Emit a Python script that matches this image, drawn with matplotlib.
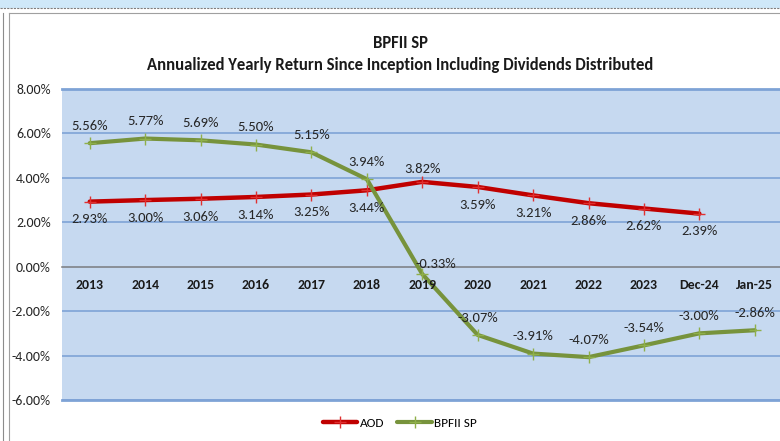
import matplotlib
matplotlib.use("Agg")
import matplotlib.pyplot as plt
from matplotlib.lines import Line2D
from matplotlib.patches import Rectangle
from matplotlib.ticker import FuncFormatter, MultipleLocator

categories = ["2013", "2014", "2015", "2016", "2017", "2018", "2019", "2020",
              "2021", "2022", "2023", "Dec-24", "Jan-25"]
aod = [2.93, 3.00, 3.06, 3.14, 3.25, 3.44, 3.82, 3.59, 3.21, 2.86, 2.62, 2.39]
bpfii = [5.56, 5.77, 5.69, 5.50, 5.15, 3.94, -0.33, -3.07, -3.91, -4.07, -3.54, -3.00, -2.86]
aod_label_above = [False, False, False, False, False, False, True, False, False, False, False, False]
title = "BPFII SP"
subtitle = "Annualized Yearly Return Since Inception Including Dividends Distributed"

FONT = ["Carlito", "DejaVu Sans"]
plt.rcParams["font.family"] = FONT

fig = plt.figure(figsize=(7.8, 4.41), dpi=100)
fig.patch.set_facecolor("white")

# decorative frame around the chart
fig.patches.append(Rectangle((0, 1 - 8 / 441), 1, 8 / 441, transform=fig.transFigure,
                             facecolor="#cfe8f8", edgecolor="none", zorder=0))
fig.lines.append(Line2D([0, 1], [1 - 8 / 441] * 2, transform=fig.transFigure,
                        color="#7f7f7f", lw=0.8, ls=(0, (2, 1))))
fig.lines.append(Line2D([9 / 780, 1], [1 - 13 / 441] * 2, transform=fig.transFigure,
                        color="#a0a0a0", lw=0.8))
fig.lines.append(Line2D([3 / 780] * 2, [0, 1 - 13 / 441], transform=fig.transFigure,
                        color="#8c8c8c", lw=0.8))
fig.lines.append(Line2D([9 / 780] * 2, [0, 1 - 13 / 441], transform=fig.transFigure,
                        color="#a0a0a0", lw=0.8))

ax = fig.add_axes([62 / 780, 41 / 441, 720.5 / 780, 311 / 441])
ax.set_facecolor("#c6d9f0")
ax.set_xlim(-0.5, len(categories) - 0.5)
ax.set_ylim(-6, 8)
ax.yaxis.set_major_locator(MultipleLocator(2))
ax.yaxis.set_major_formatter(FuncFormatter(lambda v, p: f"{v:.2f}%"))
ax.grid(axis="y", color="#7ea3d6", lw=1.2, zorder=1)
ax.set_axisbelow(True)
for s in ["left", "right", "top"]:
    ax.spines[s].set_visible(False)
ax.spines["bottom"].set_position(("data", 0))
ax.spines["bottom"].set_color("#8c8c8c")
ax.spines["bottom"].set_linewidth(1.2)
ax.spines["bottom"].set_zorder(1.5)
ax.axhline(-6, color="#7ea3d6", lw=2.0, zorder=1.2, clip_on=False)
ax.axhline(8, color="#7ea3d6", lw=2.0, zorder=1.2, clip_on=False)
ax.set_xticks(range(len(categories)))
ax.set_xticklabels(categories, fontweight="bold", fontsize=10, color="#1a1a1a")
ax.tick_params(axis="x", length=0, pad=9)
ax.tick_params(axis="y", length=0, pad=8, labelsize=10, labelcolor="#262626")
ax.xaxis.set_zorder(5)

x_aod = list(range(len(aod)))
x_b = list(range(len(bpfii)))
ax.plot(x_aod, aod, color="#c00000", lw=3.2, marker="+", ms=9, mew=1.0,
        mec="#e03030", label="AOD", zorder=3, solid_capstyle="round")
ax.plot(x_b, bpfii, color="#77933c", lw=3.0, marker="+", ms=9, mew=1.0,
        mec="#8fb04a", label="BPFII SP", zorder=3, solid_capstyle="round")

for i, v in enumerate(aod):
    if aod_label_above[i]:
        ax.annotate(f"{v:.2f}%", (i, v), xytext=(0, 5), textcoords="offset points",
                    ha="center", va="bottom", fontsize=10.5, color="#262626", zorder=4)
    else:
        ax.annotate(f"{v:.2f}%", (i, v), xytext=(0, -8.5), textcoords="offset points",
                    ha="center", va="top", fontsize=10.5, color="#262626", zorder=4)
for i, v in enumerate(bpfii):
    dx = 10 if i == 6 else 0
    dy = 3 if i == 6 else 8
    ax.annotate(f"{v:.2f}%", (i, v), xytext=(dx, dy), textcoords="offset points",
                ha="center", va="bottom", fontsize=10.5, color="#262626", zorder=4)

fig.text(400 / 780, 1 - 43 / 441, title, ha="center", va="center",
         fontsize=12, fontweight="bold", color="#1a1a1a")
fig.text(400 / 780, 1 - 65 / 441, subtitle, ha="center", va="center",
         fontsize=12, fontweight="bold", color="#1a1a1a")

leg = fig.legend(loc="center", bbox_to_anchor=(400 / 780, 1 - 423 / 441), ncol=2,
                 frameon=False, fontsize=9.5, handlelength=2.6, handletextpad=0.2,
                 columnspacing=1.0, markerscale=0.9)

fig.savefig("out.png", dpi=100)
